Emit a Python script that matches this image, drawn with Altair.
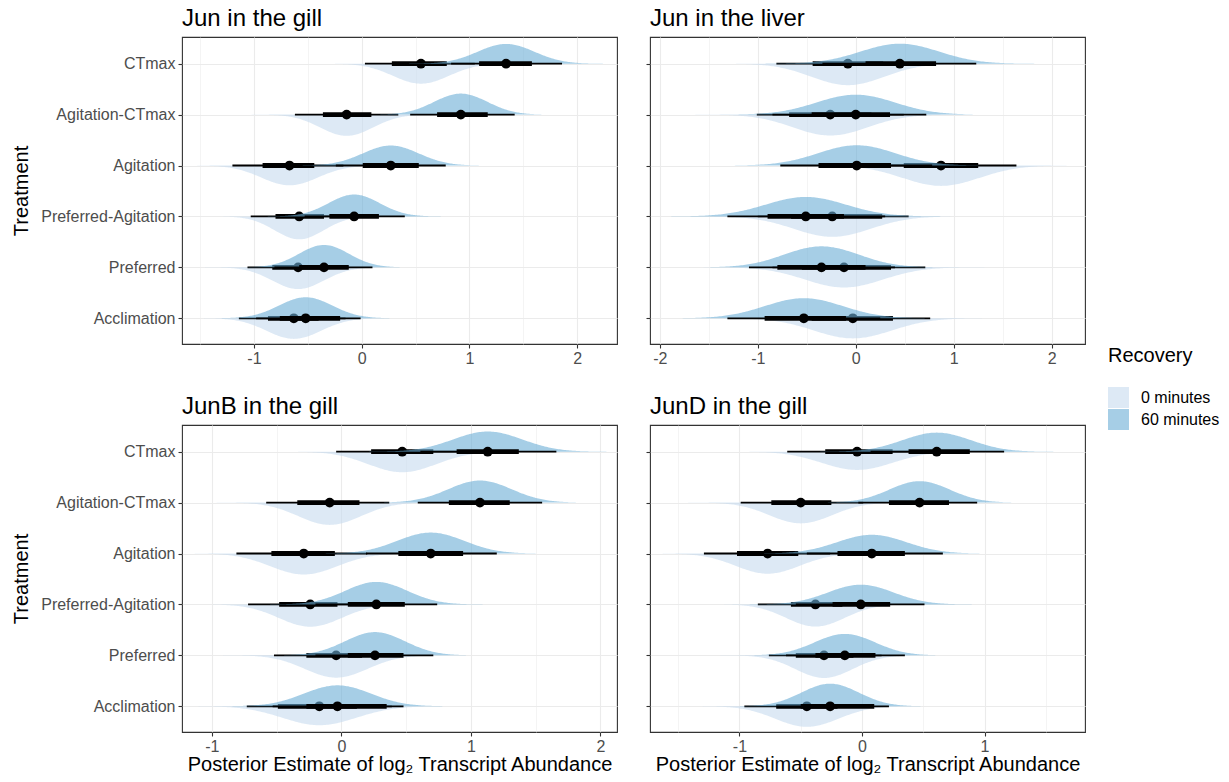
import altair as alt
import pandas as pd

# ---------------- data ----------------
treatments = ["CTmax", "Agitation-CTmax", "Agitation", "Preferred-Agitation", "Preferred", "Acclimation"]
row_index = [6, 5, 4, 3, 2, 1]
recovery_levels = ["0 minutes", "60 minutes"]
panel_titles = ["Jun in the gill", "Jun in the liver", "JunB in the gill", "JunD in the gill"]

# each entry: (median, lo66, hi66, lo95, hi95), rows in treatment order above
jun_gill_0 = [(0.55, 0.28, 0.79, 0.03, 1.05), (-0.14, -0.36, 0.09, -0.62, 0.34), (-0.67, -0.92, -0.44, -1.20, -0.17),
              (-0.58, -0.80, -0.35, -1.03, -0.14), (-0.59, -0.83, -0.37, -1.06, -0.12), (-0.63, -0.87, -0.40, -1.14, -0.15)]
jun_gill_60 = [(1.34, 1.09, 1.58, 0.83, 1.86), (0.92, 0.70, 1.17, 0.45, 1.42), (0.27, 0.01, 0.53, -0.24, 0.78),
               (-0.07, -0.30, 0.16, -0.53, 0.40), (-0.35, -0.58, -0.12, -0.81, 0.10), (-0.52, -0.76, -0.20, -0.98, -0.01)]
jun_liver_0 = [(-0.08, -0.44, 0.28, -0.81, 0.65), (-0.26, -0.68, 0.16, -1.01, 0.49), (0.87, 0.49, 1.25, 0.10, 1.64),
               (-0.24, -0.66, 0.27, -1.00, 0.54), (-0.12, -0.55, 0.36, -0.85, 0.71), (-0.03, -0.45, 0.38, -0.80, 0.76)]
jun_liver_60 = [(0.45, 0.10, 0.82, -0.34, 1.23), (0.00, -0.45, 0.35, -0.85, 0.72), (0.01, -0.38, 0.36, -0.77, 0.78),
                (-0.51, -0.90, -0.12, -1.31, 0.30), (-0.35, -0.80, 0.10, -1.09, 0.40), (-0.53, -0.93, -0.10, -1.31, 0.25)]
junb_gill_0 = [(0.47, 0.23, 0.71, -0.04, 0.99), (-0.09, -0.34, 0.14, -0.58, 0.37), (-0.29, -0.54, -0.05, -0.81, 0.20),
               (-0.24, -0.48, -0.03, -0.72, 0.23), (-0.04, -0.27, 0.16, -0.52, 0.43), (-0.17, -0.49, 0.12, -0.73, 0.39)]
junb_gill_60 = [(1.13, 0.89, 1.37, 0.61, 1.66), (1.07, 0.83, 1.30, 0.59, 1.55), (0.69, 0.44, 0.94, 0.19, 1.20),
                (0.27, 0.05, 0.49, -0.20, 0.74), (0.26, 0.05, 0.48, -0.20, 0.71), (-0.03, -0.27, 0.35, -0.53, 0.48)]
jund_gill_0 = [(-0.04, -0.30, 0.25, -0.61, 0.53), (-0.50, -0.74, -0.25, -0.99, 0.01), (-0.77, -1.02, -0.52, -1.29, -0.26),
               (-0.38, -0.58, -0.16, -0.85, 0.09), (-0.31, -0.54, -0.07, -0.76, 0.16), (-0.45, -0.70, -0.20, -0.96, 0.05)]
jund_gill_60 = [(0.61, 0.38, 0.88, 0.07, 1.16), (0.47, 0.22, 0.71, -0.03, 0.94), (0.08, -0.20, 0.35, -0.45, 0.66),
                (-0.01, -0.24, 0.23, -0.54, 0.51), (-0.14, -0.38, 0.11, -0.62, 0.35), (-0.26, -0.50, 0.10, -0.70, 0.22)]

panel_data = [(jun_gill_0, jun_gill_60), (jun_liver_0, jun_liver_60),
              (junb_gill_0, junb_gill_60), (jund_gill_0, jund_gill_60)]
x_domains = [[-1.668, 2.37], [-2.10, 2.34], [-1.23, 2.128], [-1.73, 1.82]]
x_ticks = [[-1.5, -1, -0.5, 0, 0.5, 1, 1.5, 2],
           [-2, -1.5, -1, -0.5, 0, 0.5, 1, 1.5, 2],
           [-1, -0.5, 0, 0.5, 1, 1.5, 2],
           [-1.5, -1, -0.5, 0, 0.5, 1, 1.5]]

# ---------------- styling ----------------
FONT = "Liberation Sans"
W, H = 435, 307
Y_DOMAIN = [0.495, 6.524]
PX_PER_ROW = H / (Y_DOMAIN[1] - Y_DOMAIN[0])
SLAB_K_PX = [5.2, 8.0, 5.4, 5.3]      # slab height scale per panel (px * x-unit)
SLAB_COLORS = ["#c6dbef", "#6baed6"]
XTITLE = "Posterior Estimate of log\u2082 Transcript Abundance"

label_lookup = "[" + ",".join(["''"] + ["'" + t + "'" for t in reversed(treatments)]) + "]"


def panel_df(vals0, vals60):
    rows = []
    for rec, vals in zip(recovery_levels, (vals0, vals60)):
        for t, idx, v in zip(treatments, row_index, vals):
            med, lo66, hi66, lo95, hi95 = v
            rows.append(dict(treatment=t, idx=idx, rec=rec, med=med,
                             lo66=lo66, hi66=hi66, lo95=lo95, hi95=hi95))
    return pd.DataFrame(rows)


def make_panel(i, left, bottom, legend):
    df = panel_df(*panel_data[i])
    xscale = alt.Scale(domain=x_domains[i], nice=False, zero=False)
    yscale = alt.Scale(domain=Y_DOMAIN, nice=False, zero=False)
    major = "abs(datum.value - round(datum.value)) < 1e-6"
    xaxis = alt.Axis(values=x_ticks[i], labelExpr=f"{major} ? '' + datum.value : ''",
                     gridWidth={"condition": {"test": major, "value": 1.1}, "value": 0.55},
                     tickOpacity={"condition": {"test": major, "value": 1}, "value": 0},
                     labelFlush=False, labelOverlap=False, titlePadding=0, labelPadding=2)
    yaxis = alt.Axis(values=row_index, labels=left, labelExpr=f"{label_lookup}[datum.value]",
                     labelFlush=False, labelOverlap=False, titlePadding=9)
    xt = XTITLE if bottom else ""
    yt = "Treatment" if left else ""
    k_units = SLAB_K_PX[i] / PX_PER_ROW

    def X(field):
        return alt.X(field, scale=xscale, axis=xaxis, title=xt)

    def Y():
        return alt.Y("idx:Q", scale=yscale, axis=yaxis, title=yt)

    layers = []
    for r, rec in enumerate(recovery_levels):
        sign = -1 if r == 0 else 1
        base = alt.Chart(df).transform_filter(alt.datum.rec == rec)
        slab = base.transform_calculate(
            sd="(datum.hi95 - datum.lo95) / 3.92",
            ts="sequence(-3.6, 3.61, 0.04)",
        ).transform_flatten(["ts"]).transform_calculate(
            xs="datum.med + datum.ts * datum.sd",
            edge=f"datum.idx + ({sign}) * {k_units} / datum.sd * exp(-0.5 * datum.ts * datum.ts)",
        )
        if legend:
            fill = alt.Color("rec:N", scale=alt.Scale(domain=recovery_levels, range=SLAB_COLORS),
                             legend=alt.Legend(title="Recovery", orient="none", legendX=926, legendY=309,
                                               titleFontSize=20, titleFontWeight="normal", titleColor="black",
                                               labelFontSize=16, labelColor="black", symbolType="square",
                                               symbolSize=441, symbolStrokeWidth=0, symbolOpacity=0.6,
                                               rowPadding=1, labelOffset=12, titlePadding=21))
        else:
            fill = alt.value(SLAB_COLORS[r])
        layers.append(slab.mark_area(opacity=0.6, clip=True).encode(
            x=X("xs:Q"), y=Y(), y2="edge:Q", detail="treatment:N", color=fill))
        layers.append(base.mark_rule(color="black", strokeWidth=1.8).encode(
            x=X("lo95:Q"), x2="hi95:Q", y=Y()))
        layers.append(base.mark_rule(color="black", strokeWidth=4.8).encode(
            x=X("lo66:Q"), x2="hi66:Q", y=Y()))
        layers.append(base.mark_circle(color="black", size=95, opacity=1).encode(
            x=X("med:Q"), y=Y()))
    return alt.layer(*layers).properties(width=W, height=H, title=panel_titles[i])


row1 = alt.hconcat(make_panel(0, True, False, True), make_panel(1, False, False, False), spacing=26)
row2 = alt.hconcat(make_panel(2, True, True, False), make_panel(3, False, True, False), spacing=26)

chart = alt.vconcat(row1, row2, spacing=27).properties(
    padding={"left": 11, "top": 6, "right": 5, "bottom": 5}, background="white"
).configure(font=FONT).configure_view(
    stroke="#333333", strokeWidth=1.1
).configure_title(
    fontSize=24, fontWeight="normal", color="black", anchor="start", frame="group", offset=6, font=FONT
).configure_axis(
    domain=False, tickColor="#333333", tickSize=4, tickWidth=1.1,
    labelColor="#4d4d4d", labelFontSize=16, labelFont=FONT, labelPadding=3,
    gridColor="#ebebeb", titleFontSize=20, titleFontWeight="normal", titleColor="black",
    titleFont=FONT
).configure_legend(labelFont=FONT, titleFont=FONT)

chart.save("out.html", embed_options={"renderer": "svg", "actions": False})
